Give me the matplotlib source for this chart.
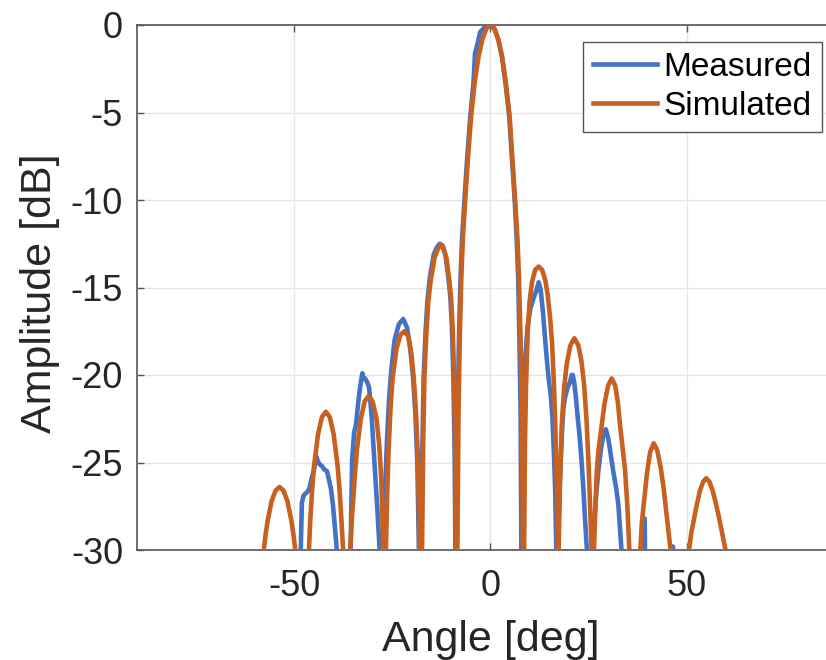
import matplotlib
matplotlib.use("Agg")
import matplotlib.pyplot as plt

# simulated pattern: (angle deg, amplitude dB)
# values below -30 dB are just the nulls, clipped by the axis
sim_pts = [
    (-60.0, -45), (-57.7, -30), (-57.3, -29.2), (-56.7, -28.3), (-55.7, -27.2), (-54.7, -26.6),
    (-53.7, -26.4), (-52.7, -26.6), (-51.7, -27.2), (-50.7, -28.3), (-50.1, -29.2), (-49.7, -30),
    (-48.2, -60),
    (-46.2, -30), (-45.9, -28.4), (-45.4, -26.6), (-44.9, -25.2), (-43.9, -23.4), (-42.9, -22.4),
    (-41.9, -22.1), (-40.9, -22.4), (-39.9, -23.4), (-38.9, -25.2), (-38.4, -26.6), (-37.9, -28.4),
    (-37.5, -30), (-36.4, -60),
    (-35.7, -30), (-35.3, -28.3), (-34.5, -25.7), (-34.0, -24.3), (-33.0, -22.5), (-32.0, -21.5),
    (-31.0, -21.2), (-30.0, -21.5), (-29.0, -22.5), (-28.3, -24.0), (-27.8, -25.9), (-27.5, -28.0),
    (-27.3, -30), (-27.1, -60),
    (-26.6, -30), (-26.3, -27.0), (-25.9, -24.2), (-25.4, -21.8), (-24.9, -20.2), (-23.9, -18.5),
    (-22.9, -17.7), (-21.9, -17.5), (-20.9, -17.8), (-20.1, -18.8), (-19.5, -20.2), (-18.9, -22.3),
    (-18.4, -25.0), (-18.0, -30), (-17.7, -60),
    (-17.4, -30), (-17.1, -24.0), (-16.8, -20.2), (-16.3, -17.6), (-15.8, -15.8), (-15.2, -14.6),
    (-14.2, -13.3), (-13.4, -12.8), (-12.7, -12.6), (-12.0, -12.7), (-11.2, -13.3), (-10.5, -14.5),
    (-10.0, -15.6), (-9.6, -17.3), (-9.2, -20.3), (-8.9, -24.5), (-8.7, -30), (-8.55, -60),
    (-8.4, -30), (-8.1, -22.0), (-7.8, -18.0), (-7.4, -14.5), (-7.0, -12.2), (-6.4, -10.0),
    (-5.7, -7.6), (-4.9, -5.2), (-4.0, -3.3), (-3.0, -1.8), (-2.0, -0.8), (-1.0, -0.2), (0.0, 0.0),
    (1.0, -0.2), (2.0, -0.8), (3.0, -1.8), (4.0, -3.4), (4.9, -5.2), (5.6, -7.6), (6.3, -10.0),
    (6.9, -12.2), (7.3, -14.5), (7.7, -18.0), (8.0, -22.0), (8.3, -30), (8.45, -60),
    (8.6, -30), (8.8, -24.0), (9.1, -20.5), (9.5, -17.6), (10.0, -15.8), (10.6, -14.7), (11.4, -14.0),
    (12.3, -13.8), (13.2, -14.0), (14.0, -14.6), (14.6, -15.4), (15.2, -16.7), (15.7, -18.1),
    (16.2, -20.5), (16.6, -23.3), (16.9, -26.0), (17.1, -30), (17.25, -60),
    (17.4, -30), (17.7, -26.5), (18.2, -22.8), (18.8, -20.7), (19.5, -19.3), (20.4, -18.3),
    (21.4, -17.9), (22.4, -18.3), (23.2, -19.2), (23.9, -20.6), (24.5, -22.6), (25.0, -25.0),
    (25.4, -27.5), (25.8, -30), (26.1, -60),
    (26.4, -30), (26.7, -27.8), (27.1, -25.5), (27.6, -24.2), (28.3, -23.0), (29.1, -21.6),
    (30.0, -20.6), (30.9, -20.2), (31.8, -20.6), (32.5, -21.6), (33.0, -22.8), (33.7, -24.2),
    (34.3, -25.4), (34.9, -27.5), (35.4, -30), (36.8, -60),
    (38.2, -30), (38.6, -28.4), (39.3, -26.9), (39.9, -25.6), (40.7, -24.4), (41.6, -23.9),
    (42.5, -24.3), (43.4, -25.3), (44.1, -26.4), (44.7, -27.6), (45.4, -29.0), (45.9, -30),
    (48.5, -60),
    (50.6, -30), (51.2, -29.0), (51.9, -28.2), (52.6, -27.4), (53.4, -26.6), (54.2, -26.1),
    (55.0, -25.9), (55.8, -26.1), (56.6, -26.6), (57.4, -27.3), (58.2, -28.1), (59.0, -29.0),
    (59.9, -30), (61.0, -45),
]

# measured pattern
meas_pts = [
    (-49.0, -60), (-48.3, -30), (-48.0, -27.3), (-47.6, -26.9), (-47.2, -26.8), (-46.7, -26.7),
    (-46.1, -26.5), (-45.5, -25.9), (-44.9, -25.4), (-44.4, -24.6), (-44.0, -24.9), (-43.5, -25.1),
    (-42.9, -25.2), (-42.3, -25.4), (-41.6, -25.5), (-41.1, -26.0), (-40.6, -26.5), (-40.1, -27.4),
    (-39.6, -28.7), (-39.1, -30), (-38.5, -60),
    (-36.0, -60), (-35.6, -30), (-35.2, -24.8), (-34.7, -23.3), (-34.2, -22.8), (-33.8, -21.9),
    (-33.3, -20.9), (-32.9, -20.3), (-32.6, -19.9), (-32.3, -20.2), (-31.9, -20.2), (-31.4, -20.4),
    (-30.9, -20.7), (-30.6, -21.4), (-30.2, -22.5), (-29.8, -24.0), (-29.3, -25.8), (-28.8, -27.6),
    (-28.2, -30), (-27.7, -60),
    (-27.2, -30), (-26.8, -26.5), (-26.3, -23.6), (-25.8, -21.4), (-25.3, -19.9), (-24.4, -18.0),
    (-23.3, -17.1), (-22.2, -16.8), (-21.2, -17.3), (-20.4, -18.5), (-19.7, -20.1), (-19.1, -22.2),
    (-18.6, -25.0), (-18.2, -30), (-17.9, -60),
    (-17.6, -30), (-17.3, -24.0), (-17.0, -20.2), (-16.5, -17.5), (-16.0, -15.7), (-15.4, -14.4),
    (-14.4, -13.1), (-13.6, -12.7), (-12.9, -12.5), (-12.2, -12.6), (-11.4, -13.2), (-10.7, -14.4),
    (-10.2, -15.5), (-9.8, -17.2), (-9.4, -20.3), (-9.1, -24.5), (-8.9, -30), (-8.8, -60),
    (-8.7, -30), (-8.3, -22.0), (-8.0, -18.0), (-7.6, -14.5), (-7.2, -12.2), (-6.6, -10.0),
    (-5.9, -7.6), (-5.1, -5.2), (-4.3, -3.3), (-3.9, -1.6), (-3.4, -1.2), (-2.6, -0.4),
    (-1.5, -0.15), (-0.6, 0.0), (0.4, 0.0), (1.2, -0.3), (2.1, -0.9), (3.0, -1.9), (3.9, -3.4),
    (4.8, -5.2), (5.5, -7.6), (6.2, -10.0), (6.7, -12.2), (7.1, -14.5), (7.4, -18.0), (7.7, -22.0),
    (7.9, -30), (7.95, -60),
    (8.0, -30), (8.3, -24.0), (8.6, -21.0), (8.9, -19.0), (9.5, -17.2), (10.2, -16.2), (11.0, -15.6),
    (11.7, -15.2), (12.3, -14.7), (12.8, -15.1), (13.4, -16.4), (14.0, -18.1), (14.5, -19.4),
    (14.9, -20.3), (15.4, -21.2), (15.8, -22.4), (16.2, -24.5), (16.5, -26.5), (16.8, -30),
    (17.0, -60),
    (17.2, -30), (17.5, -27.5), (17.8, -25.5), (18.2, -23.5), (18.6, -21.9), (19.1, -21.2),
    (19.7, -20.7), (20.3, -20.4), (20.7, -20.0), (21.0, -20.0), (21.4, -20.5), (21.8, -21.3),
    (22.2, -22.3), (22.7, -23.4), (23.2, -24.8), (23.7, -26.5), (24.1, -28.2), (24.6, -30),
    (25.2, -60),
    (26.1, -30), (26.5, -28.3), (26.9, -27.0), (27.5, -25.5), (28.2, -24.2), (28.8, -23.4),
    (29.4, -23.1), (30.0, -23.6), (30.5, -24.3), (31.3, -25.5), (32.0, -26.4), (32.6, -27.4),
    (33.1, -29.0), (33.4, -30), (33.7, -60),
    (39.1, -32), (39.3, -28.2), (39.5, -32), (46.2, -31), (46.5, -29.8), (46.8, -31), (50.0, -45),
]

sim_angle, sim_db = zip(*sim_pts)
meas_angle, meas_db = zip(*meas_pts)

x_ticks = [-50, 0, 50]
y_ticks = [-30, -25, -20, -15, -10, -5, 0]

BLUE = "#4472C4"
ORANGE = "#C8601F"
TXT = "#262626"

plt.rcParams["font.family"] = ["Liberation Sans", "DejaVu Sans"]
plt.rcParams["axes.unicode_minus"] = False

fig = plt.figure(figsize=(8.26, 6.6), dpi=100)
# MATLAB axes run -90..90, the right part is cut off in the original picture
ax = fig.add_axes([137 / 826, 110 / 660, 706.7 / 826, 525 / 660])

ax.plot(meas_angle, meas_db, color=BLUE, lw=3.3, label="Measured", zorder=3,
        solid_joinstyle="round")
ax.plot(sim_angle, sim_db, color=ORANGE, lw=3.3, label="Simulated", zorder=4,
        solid_joinstyle="round")

ax.set_xlim(-90, 90)
ax.set_ylim(-30, 0)
ax.set_xticks(x_ticks)
ax.set_yticks(y_ticks)
ax.grid(True, color="#E6E6E6", lw=1)
ax.set_axisbelow(True)

for s in ax.spines.values():
    s.set_color("#555555")
    s.set_linewidth(1.2)
ax.tick_params(direction="in", length=5, width=1, color="#555555",
               labelsize=26, labelcolor=TXT, top=True, right=True)
ax.tick_params(axis="x", pad=14)
ax.tick_params(axis="y", pad=10)

ax.set_xlabel("Angle [deg]", fontsize=31, color=TXT)
ax.set_ylabel("Amplitude [dB]", fontsize=31, color=TXT)
ax.xaxis.set_label_coords(0.5, -0.133)
ax.yaxis.set_label_coords(-0.109, 0.489)

leg = ax.legend(loc="upper right", bbox_to_anchor=(821.7 / 826, (660 - 41.7) / 660),
                bbox_transform=fig.transFigure, borderaxespad=0, fontsize=24,
                frameon=True, fancybox=False, framealpha=1, edgecolor="#555555",
                handlelength=1.9, handletextpad=0.2, borderpad=0.3, labelspacing=0.25)
leg.get_frame().set_linewidth(1)

fig.savefig("out.png", dpi=100)
